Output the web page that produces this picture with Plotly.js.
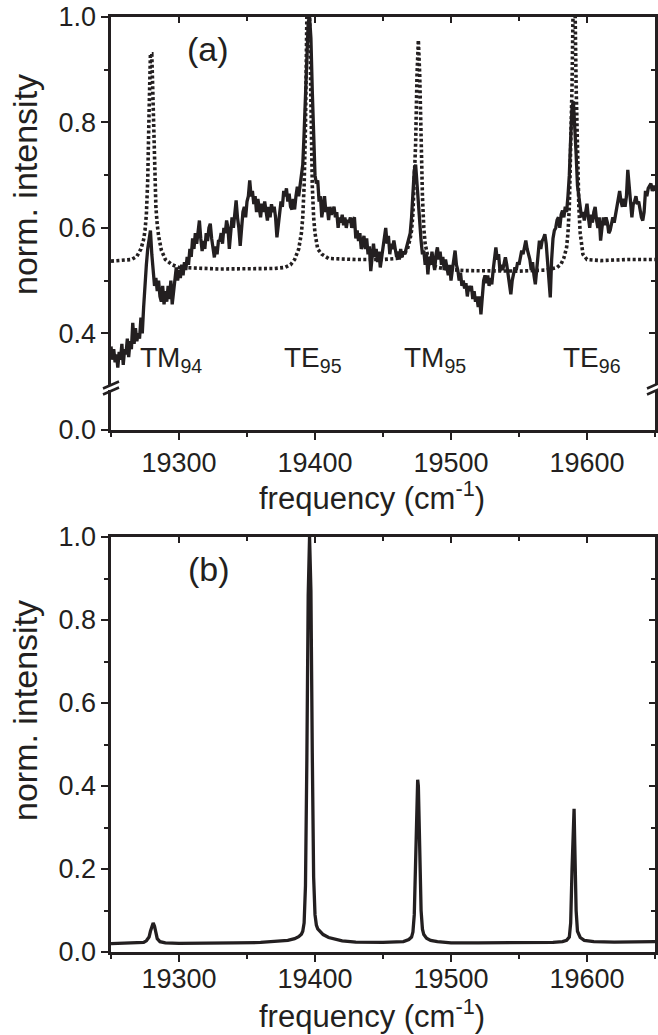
<!DOCTYPE html>
<html>
<head>
<meta charset="utf-8">
<script src="https://cdn.plot.ly/plotly-3.0.1.min.js"></script>
<style>html,body{margin:0;padding:0;background:#fff;}#chart{width:658px;height:1035px;}</style>
</head>
<body>
<div id="chart"></div>
<script>
// ---------- DATA ----------
// Panel (a): measured spectrum (solid), sampled every 1 cm^-1 starting at 19250
const aFreqStart = 19250;
const aFreqStep = 1;
const aSolid = [
0.375,0.35,0.37,0.345,0.36,0.335,0.365,0.35,0.38,0.34,
0.37,0.36,0.39,0.355,0.385,0.37,0.42,0.38,0.41,0.385,
0.40,0.39,0.43,0.40,0.45,0.50,0.53,0.56,0.585,0.595,
0.55,0.51,0.49,0.505,0.48,0.50,0.47,0.46,0.49,0.455,
0.48,0.46,0.49,0.465,0.50,0.455,0.48,0.51,0.525,0.50,
0.52,0.505,0.53,0.51,0.535,0.52,0.545,0.53,0.56,0.545,
0.58,0.56,0.59,0.57,0.60,0.614,0.58,0.556,0.575,0.56,
0.59,0.575,0.60,0.608,0.58,0.56,0.544,0.565,0.55,0.575,
0.576,0.59,0.57,0.60,0.59,0.614,0.60,0.56,0.59,0.62,
0.60,0.63,0.652,0.62,0.60,0.566,0.60,0.63,0.64,0.62,
0.65,0.66,0.69,0.66,0.67,0.645,0.66,0.63,0.655,0.64,
0.62,0.646,0.63,0.65,0.625,0.614,0.64,0.62,0.645,0.63,
0.64,0.62,0.582,0.61,0.63,0.65,0.64,0.67,0.66,0.675,
0.65,0.665,0.64,0.635,0.655,0.635,0.66,0.678,0.66,0.68,
0.70,0.72,0.78,0.86,0.94,0.99,1.0,0.96,0.86,0.76,
0.70,0.684,0.69,0.65,0.66,0.62,0.64,0.66,0.63,0.64,
0.615,0.64,0.625,0.635,0.64,0.62,0.63,0.60,0.62,0.61,
0.625,0.605,0.62,0.60,0.615,0.61,0.62,0.60,0.615,0.62,
0.58,0.595,0.575,0.59,0.56,0.57,0.585,0.56,0.58,0.55,
0.565,0.518,0.55,0.57,0.545,0.56,0.535,0.555,0.525,0.545,
0.56,0.58,0.60,0.57,0.585,0.55,0.57,0.56,0.576,0.56,
0.545,0.555,0.54,0.56,0.545,0.555,0.55,0.56,0.57,0.58,
0.59,0.62,0.67,0.71,0.72,0.68,0.64,0.60,0.576,0.55,
0.557,0.53,0.55,0.512,0.545,0.53,0.555,0.535,0.52,0.55,
0.563,0.54,0.555,0.53,0.545,0.52,0.54,0.525,0.51,0.53,
0.50,0.52,0.54,0.557,0.53,0.52,0.50,0.515,0.49,0.50,
0.485,0.495,0.47,0.49,0.48,0.49,0.465,0.48,0.46,0.47,
0.45,0.47,0.436,0.48,0.50,0.51,0.495,0.51,0.49,0.505,
0.493,0.52,0.54,0.563,0.54,0.55,0.518,0.53,0.52,0.535,
0.544,0.53,0.51,0.49,0.474,0.50,0.51,0.525,0.52,0.535,
0.53,0.545,0.557,0.55,0.565,0.576,0.56,0.55,0.54,0.52,
0.535,0.51,0.493,0.52,0.55,0.576,0.56,0.575,0.58,0.588,
0.57,0.54,0.50,0.468,0.54,0.58,0.595,0.60,0.615,0.62,
0.60,0.625,0.633,0.62,0.64,0.63,0.66,0.70,0.77,0.83,
0.84,0.80,0.74,0.68,0.655,0.64,0.62,0.63,0.614,0.63,
0.646,0.62,0.60,0.625,0.61,0.63,0.64,0.615,0.60,0.62,
0.576,0.60,0.62,0.605,0.62,0.61,0.59,0.595,0.61,0.62,
0.61,0.625,0.64,0.65,0.67,0.65,0.64,0.655,0.64,0.66,
0.71,0.68,0.64,0.62,0.645,0.65,0.66,0.645,0.65,0.63,
0.62,0.614,0.63,0.67,0.66,0.675,0.68,0.684,0.67,0.68,
0.67
];

// Panel (a): calculated spectrum (dotted)
const aDotFreq = [
19250,19260,19265,19269,19272,19274,19275,19276,19277,19278,19279,19280,19281,19282,19283,19284,19285,19287,19290,19295,19300,
19330,19360,19370,19378,19382,19385,19388,19390,19391,19392,19393,19394,19395,19396,19397,19398,19399,19400,19402,19405,19410,
19430,19450,19460,19465,19468,19470,19471,19472,19473,19474,19475,19476,19477,19478,19479,19480,19481,19483,19486,19490,19500,19510,
19530,19550,19570,19578,19581,19583,19585,19586,19587,19588,19589,19590,19590.5,19591,19592,19593,19594,19595,19597,19600,19610,19630,19650
];
const aDotted = [
0.537,0.538,0.54,0.546,0.56,0.578,0.595,0.625,0.69,0.82,0.93,0.93,0.815,0.70,0.64,0.606,0.585,0.558,0.54,0.53,0.525,
0.522,0.522,0.523,0.525,0.53,0.54,0.56,0.59,0.62,0.68,0.79,1.0,1.12,1.0,0.79,0.68,0.62,0.59,0.56,0.55,0.542,
0.54,0.54,0.542,0.548,0.56,0.58,0.595,0.627,0.68,0.76,0.89,0.956,0.89,0.76,0.66,0.60,0.57,0.545,0.53,0.525,0.521,0.519,
0.518,0.518,0.52,0.525,0.532,0.543,0.563,0.59,0.64,0.73,0.87,1.06,1.12,1.06,0.87,0.73,0.64,0.59,0.55,0.54,0.538,0.54,0.54
];

// Panel (b): spectrum
const bFreq = [
19250,19260,19270,19274,19276,19278,19279,19280,19281,19282,19283,19284,19286,19290,19300,19320,19340,19360,19370,19380,
19385,19388,19390,19391,19392,19393,19394,19395,19396,19397,19398,19399,19400,19401,19402,19404,19406,19410,19415,19420,
19430,19450,19465,19469,19471,19472,19473,19474,19475,19475.5,19476,19477,19478,19479,19480,19482,19485,19490,19500,19520,
19540,19560,19575,19582,19585,19587,19588,19589,19590,19590.5,19591,19592,19593,19595,19598,19605,19620,19640,19650
];
const bInt = [
0.02,0.021,0.022,0.023,0.027,0.036,0.05,0.064,0.07,0.062,0.045,0.032,0.025,0.022,0.021,0.021,0.022,0.023,0.025,0.028,
0.032,0.037,0.043,0.05,0.07,0.16,0.46,0.86,1.0,0.87,0.48,0.18,0.09,0.065,0.056,0.048,0.042,0.035,0.03,0.027,
0.024,0.023,0.025,0.03,0.036,0.048,0.09,0.22,0.38,0.415,0.40,0.25,0.10,0.055,0.042,0.033,0.028,0.025,0.022,0.022,
0.022,0.022,0.023,0.025,0.028,0.036,0.07,0.2,0.34,0.345,0.26,0.10,0.05,0.035,0.028,0.025,0.024,0.024,0.025
];

// Mode labels
const modeMain = ['TM','TE','TM','TE'];
const modeSub = ['94','95','95','96'];
const modeFreq = [19270,19376,19464,19581];

// ---------- STYLE / LAYOUT ----------
const INK = '#231f20';
const W = 658, H = 1035;
const px = v => v / W;            // pixel x -> paper
const py = v => 1 - v / H;        // pixel y -> paper
const FAM = 'Liberation Sans, Arial, sans-serif';
const tickFont = {family: FAM, size: 27, color: INK};
const titleFont = {family: FAM, size: 31, color: INK};
const yTitleFont = {family: FAM, size: 34, color: INK};

const xDom = [px(111), px(655)];
const xRange = [19250, 19650];

function xBase(anchor, extra) {
  return Object.assign({
    domain: xDom, range: xRange, anchor: anchor,
    showline: true, linewidth: 2.6, linecolor: INK,
    showgrid: false, zeroline: false,
    ticks: 'outside', ticklen: 7, tickwidth: 2, tickcolor: INK,
    tick0: 19300, dtick: 100, tickformat: 'd', tickfont: tickFont,
    minor: {dtick: 50, tick0: 19250, ticks: 'outside', ticklen: 4, tickwidth: 2, tickcolor: INK, showgrid: false}
  }, extra || {});
}
function xTop(overlay, anchor) {
  return {
    overlaying: overlay, side: 'top', anchor: anchor, domain: xDom, range: xRange,
    showline: true, linewidth: 2.6, linecolor: INK, showgrid: false, zeroline: false,
    ticks: 'inside', ticklen: 6, tickwidth: 2, tickcolor: INK, tick0: 19300, dtick: 100,
    showticklabels: false,
    minor: {dtick: 50, tick0: 19250, ticks: 'inside', ticklen: 4, tickwidth: 2, tickcolor: INK, showgrid: false}
  };
}
function yAx(domain, range, extra) {
  return Object.assign({
    domain: domain, range: range, anchor: 'x',
    showline: true, linewidth: 2.6, linecolor: INK, showgrid: false, zeroline: false,
    ticks: 'outside', ticklen: 7, tickwidth: 2, tickcolor: INK,
    tick0: 0, dtick: 0.2, tickformat: '.1f', tickfont: tickFont,
    minor: {dtick: 0.1, tick0: 0, ticks: 'outside', ticklen: 4, tickwidth: 2, tickcolor: INK, showgrid: false}
  }, extra || {});
}
function yRight(overlay, anchor, domain, range, withMinor) {
  const o = {
    overlaying: overlay, side: 'right', anchor: anchor, domain: domain, range: range,
    showline: true, linewidth: 2.6, linecolor: INK, showgrid: false, zeroline: false,
    ticks: 'inside', ticklen: 6, tickwidth: 2, tickcolor: INK, tick0: 0, dtick: 0.2,
    showticklabels: false
  };
  if (withMinor) o.minor = {dtick: 0.1, tick0: 0, ticks: 'inside', ticklen: 4, tickwidth: 2, tickcolor: INK, showgrid: false};
  return o;
}

const yUpDom = [py(385), py(17)];
const yLowDom = [py(430), py(390)];
const yBDom = [py(952), py(537)];
const yUpRange = [0.302, 1.0];
const yLowRange = [0, 0.076];

const traces = [
  {type: 'scatter', mode: 'lines', x0: aFreqStart, dx: aFreqStep, y: aSolid,
   xaxis: 'x', yaxis: 'y', line: {color: INK, width: 3.3}, hoverinfo: 'skip'},
  {type: 'scatter', mode: 'lines', x: aDotFreq, y: aDotted,
   xaxis: 'x', yaxis: 'y', line: {color: INK, width: 3.6, dash: '3px,2.4px'}, hoverinfo: 'skip'},
  {type: 'scatter', mode: 'lines', x: bFreq, y: bInt,
   xaxis: 'x2', yaxis: 'y2', line: {color: INK, width: 3.3}, hoverinfo: 'skip'},
  // empty traces so every axis pair (incl. mirror axes and the lower break segment) exists
  {type: 'scatter', x: [], y: [], xaxis: 'x', yaxis: 'y3', showlegend: false},
  {type: 'scatter', x: [], y: [], xaxis: 'x3', yaxis: 'y', showlegend: false},
  {type: 'scatter', x: [], y: [], xaxis: 'x', yaxis: 'y4', showlegend: false},
  {type: 'scatter', x: [], y: [], xaxis: 'x', yaxis: 'y5', showlegend: false},
  {type: 'scatter', x: [], y: [], xaxis: 'x4', yaxis: 'y2', showlegend: false},
  {type: 'scatter', x: [], y: [], xaxis: 'x2', yaxis: 'y6', showlegend: false}
];

const annotations = [
  {text: '(a)', xref: 'paper', yref: 'paper', x: px(208), y: py(49), showarrow: false,
   xanchor: 'center', yanchor: 'middle', font: {family: FAM, size: 34, color: INK}},
  {text: '(b)', xref: 'paper', yref: 'paper', x: px(209), y: py(569), showarrow: false,
   xanchor: 'center', yanchor: 'middle', font: {family: FAM, size: 34, color: INK}},
  {text: 'frequency (cm<sup>-1</sup>)', xref: 'paper', yref: 'paper', x: px(372), y: py(496), showarrow: false,
   xanchor: 'center', yanchor: 'middle', borderpad: 0, font: titleFont},
  {text: 'frequency (cm<sup>-1</sup>)', xref: 'paper', yref: 'paper', x: px(372), y: py(1014), showarrow: false,
   xanchor: 'center', yanchor: 'middle', borderpad: 0, font: titleFont},
  {text: 'norm. intensity', xref: 'paper', yref: 'paper', x: px(25), y: py(185), showarrow: false,
   textangle: -90, xanchor: 'center', yanchor: 'middle', font: yTitleFont},
  {text: 'norm. intensity', xref: 'paper', yref: 'paper', x: px(25), y: py(711), showarrow: false,
   textangle: -90, xanchor: 'center', yanchor: 'middle', font: yTitleFont}
];
for (let i = 0; i < modeMain.length; i++) {
  annotations.push({
    text: modeMain[i] + '<sub>' + modeSub[i] + '</sub>', xref: 'x', yref: 'paper',
    x: modeFreq[i], y: py(340), xanchor: 'left', yanchor: 'top', showarrow: false,
    font: {family: FAM, size: 28, color: INK}
  });
}

// axis-break marks (decoration)
function brk(cx, cy) {
  return {type: 'line', xref: 'paper', yref: 'paper',
    x0: px(cx - 8), y0: py(cy + 3.5), x1: px(cx + 8), y1: py(cy - 3.5),
    line: {color: INK, width: 2.6}};
}
const shapes = [brk(111, 385), brk(111, 391), brk(655, 385), brk(655, 391)];

const layout = {
  width: W, height: H, margin: {l: 0, r: 0, t: 0, b: 0},
  paper_bgcolor: '#fff', plot_bgcolor: 'rgba(0,0,0,0)', showlegend: false,
  xaxis: xBase('y3', {ticklabelstandoff: 0}),
  xaxis2: xBase('y2', {ticklabelstandoff: -6}),
  xaxis3: xTop('x', 'y'),
  xaxis4: xTop('x2', 'y2'),
  yaxis: yAx(yUpDom, yUpRange, {tick0: 0.4}),
  yaxis3: yAx(yLowDom, yLowRange, {tickvals: [0], ticktext: ['0.0'], minor: {ticks: ''}}),
  yaxis2: yAx(yBDom, [0, 1.0], {anchor: 'x2'}),
  yaxis4: yRight('y', 'x', yUpDom, yUpRange, true),
  yaxis5: Object.assign(yRight('y3', 'x', yLowDom, yLowRange, false), {tickvals: [0]}),
  yaxis6: yRight('y2', 'x2', yBDom, [0, 1.0], true),
  annotations: annotations,
  shapes: shapes
};

Plotly.newPlot('chart', traces, layout, {displayModeBar: false, staticPlot: true});
</script>
</body>
</html>
